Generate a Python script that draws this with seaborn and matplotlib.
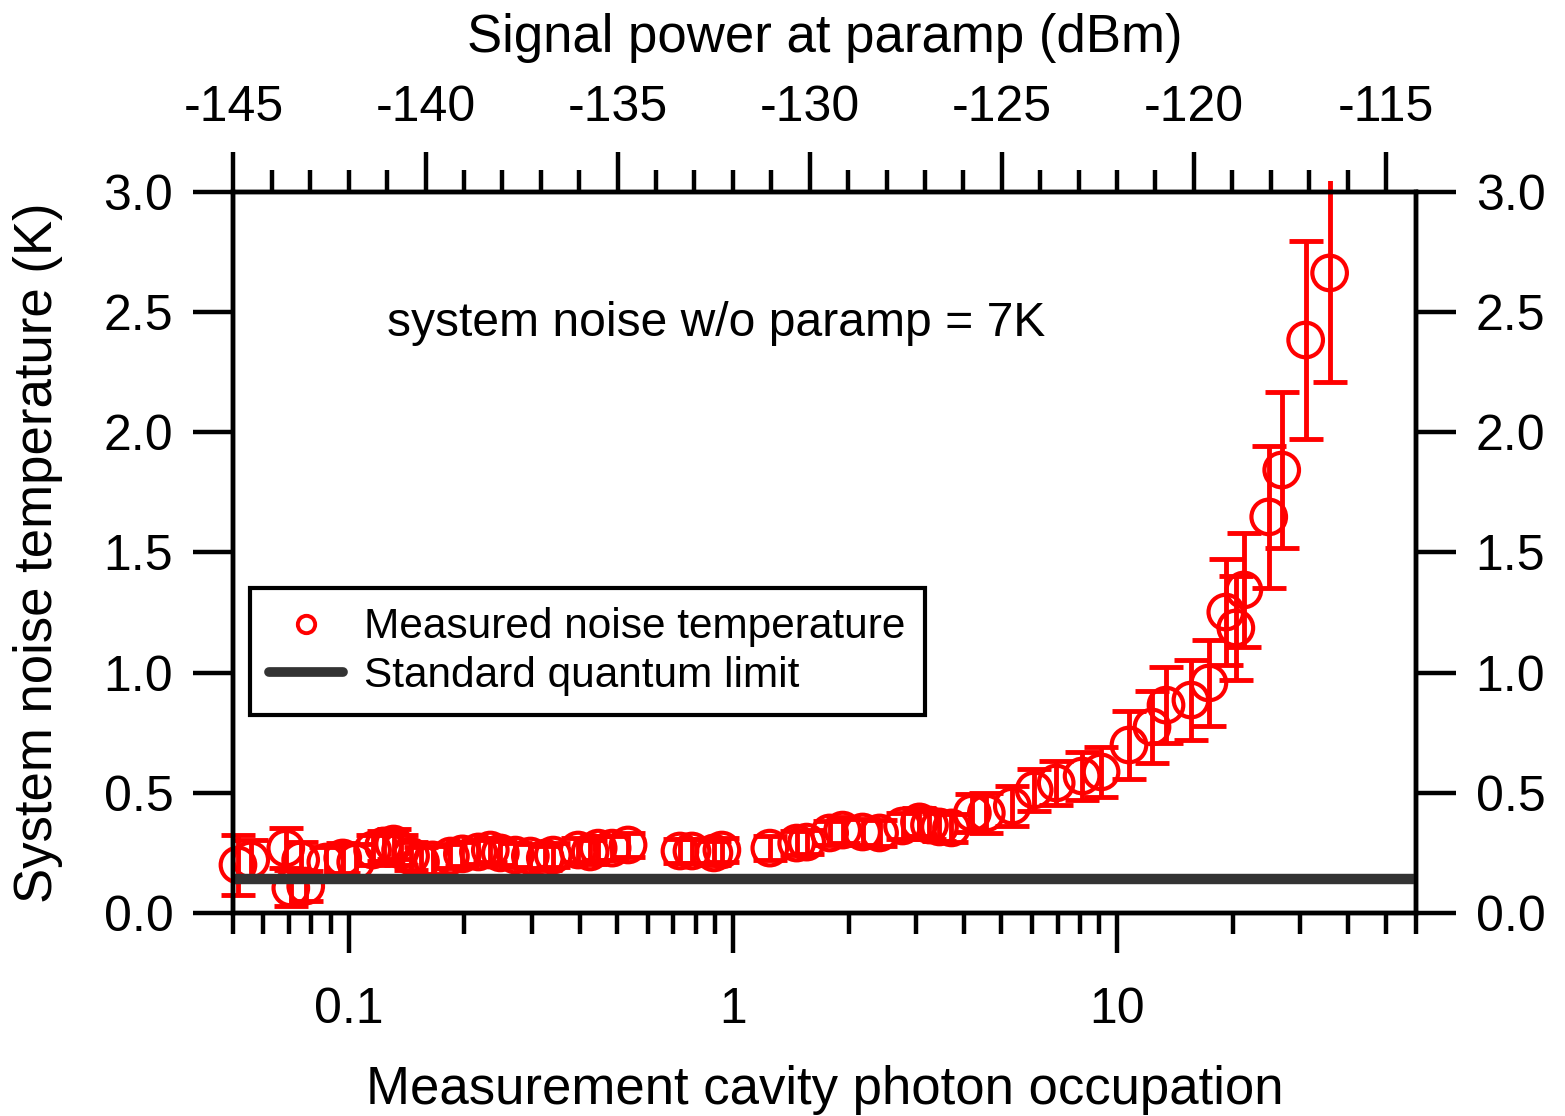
import numpy as np
import pandas as pd
import matplotlib
matplotlib.use("Agg")
import matplotlib.pyplot as plt
import seaborn as sns
from matplotlib.lines import Line2D
from matplotlib.patches import Rectangle
from matplotlib.ticker import MultipleLocator, LogLocator, NullFormatter, NullLocator

# Measured system noise temperature vs. cavity photon occupation
photon_occupation = [
    0.0515, 0.0556, 0.0686, 0.0707, 0.0750, 0.0773, 0.0872, 0.0965, 0.1043, 0.1154,
    0.1233, 0.1309, 0.1365, 0.1449, 0.1538, 0.1653, 0.1840, 0.1977, 0.2176, 0.2337,
    0.2482, 0.2716, 0.2971, 0.3249, 0.3407, 0.3958, 0.4251, 0.4460, 0.4850, 0.5336,
    0.7283, 0.7825, 0.8926, 0.9363, 1.248, 1.466, 1.556, 1.786, 1.931, 2.176,
    2.409, 2.764, 3.060, 3.249, 3.449, 3.706, 4.201, 4.568, 5.337, 6.086,
    6.943, 8.11, 9.087, 10.74, 12.33, 13.41, 15.57, 17.34, 19.19, 20.38,
    21.38, 24.82, 26.83, 30.97, 35.75,
]
noise_temperature = [
    0.200, 0.221, 0.270, 0.104, 0.221, 0.112, 0.212, 0.229, 0.212, 0.262,
    0.279, 0.287, 0.262, 0.237, 0.212, 0.221, 0.237, 0.246, 0.254, 0.262,
    0.250, 0.241, 0.237, 0.229, 0.241, 0.262, 0.254, 0.270, 0.270, 0.283,
    0.258, 0.258, 0.250, 0.262, 0.270, 0.291, 0.295, 0.333, 0.345, 0.337,
    0.333, 0.362, 0.379, 0.366, 0.358, 0.354, 0.416, 0.416, 0.445, 0.512,
    0.541, 0.570, 0.587, 0.699, 0.774, 0.865, 0.886, 0.957, 1.252, 1.186,
    1.344, 1.648, 1.843, 2.384, 2.663,
]
noise_error = [
    0.125, 0.083, 0.083, 0.075, 0.075, 0.062, 0.062, 0.062, 0.075, 0.062,
    0.062, 0.062, 0.062, 0.058, 0.062, 0.058, 0.050, 0.050, 0.050, 0.050,
    0.050, 0.050, 0.050, 0.050, 0.050, 0.050, 0.050, 0.050, 0.050, 0.050,
    0.050, 0.050, 0.050, 0.050, 0.050, 0.050, 0.050, 0.050, 0.054, 0.054,
    0.054, 0.054, 0.058, 0.058, 0.058, 0.058, 0.080, 0.083, 0.083, 0.087,
    0.092, 0.100, 0.104, 0.141, 0.150, 0.158, 0.166, 0.179, 0.220, 0.216,
    0.237, 0.295, 0.325, 0.410, 0.454,
]
standard_quantum_limit = 0.14  # K

x_limits = (0.05, 60)
y_limits = (0.0, 3.0)
bottom_ticks = [0.1, 1, 10]
bottom_tick_labels = ["0.1", "1", "10"]
y_ticks = [0.0, 0.5, 1.0, 1.5, 2.0, 2.5, 3.0]
y_tick_labels = ["0.0", "0.5", "1.0", "1.5", "2.0", "2.5", "3.0"]
power_offset_dbm = -132.0  # signal power = 10 log10(n) + offset


def occupation_to_dbm(n):
    return 10 * np.log10(n) + power_offset_dbm


df = pd.DataFrame({"n": photon_occupation, "T": noise_temperature, "err": noise_error})

sns.set_theme(style="ticks")
plt.rcParams["font.family"] = ["Liberation Sans", "DejaVu Sans"]
plt.rcParams["axes.unicode_minus"] = False
plt.rcParams["text.color"] = "black"
plt.rcParams["axes.labelcolor"] = "black"
plt.rcParams["xtick.color"] = "black"
plt.rcParams["ytick.color"] = "black"

fig = plt.figure(figsize=(15.65, 11.16), dpi=100)
ax = fig.add_axes([0.1489, 0.1819, 0.9048 - 0.1489, 0.8280 - 0.1819])
ax.set_xscale("log")
ax.set_xlim(*x_limits)
ax.set_ylim(*y_limits)

red = "#ff0000"
clip_box = Rectangle((-0.03, -0.03), 1.06, 1.045, transform=ax.transAxes,
                     facecolor="none", edgecolor="none")

eb = ax.errorbar(df["n"], df["T"], yerr=df["err"], fmt="none", ecolor=red,
                 elinewidth=3.5, capsize=12, capthick=3.5, zorder=2)
for art in list(eb.lines[1]) + list(eb.lines[2]):
    art.set_clip_path(clip_box)

sns.scatterplot(data=df, x="n", y="T", marker="o", s=620, facecolor="none",
                edgecolor=red, linewidth=3.0, ax=ax, legend=False, zorder=3)
for coll in ax.collections:
    if coll not in eb.lines[2]:
        coll.set_clip_path(clip_box)

ax.axhline(standard_quantum_limit, color="#333333", lw=7.5, zorder=4)

# Axes styling
for side in ["left", "right", "bottom", "top"]:
    ax.spines[side].set_visible(True)
    ax.spines[side].set_linewidth(3.2)
    ax.spines[side].set_color("black")

ax.set_xticks(bottom_ticks, labels=bottom_tick_labels)
ax.xaxis.set_minor_locator(LogLocator(base=10, subs=np.arange(2, 10)))
ax.xaxis.set_minor_formatter(NullFormatter())
ax.set_yticks(y_ticks, labels=y_tick_labels)
ax.yaxis.set_minor_locator(NullLocator())

ax.tick_params(axis="x", which="major", direction="out", length=29, width=3.2,
               labelsize=36, pad=24, top=False)
ax.tick_params(axis="x", which="minor", direction="out", length=15, width=3.2, top=False)
ax.tick_params(axis="y", which="major", direction="out", length=29, width=3.2,
               labelsize=36, pad=14, left=True, right=True,
               labelleft=True, labelright=True)

# Top axis: signal power in dBm, linear in log10 of the occupation
ax_top = ax.twiny()
ax_top.set_xlim(occupation_to_dbm(x_limits[0]), occupation_to_dbm(x_limits[1]))
ax_top.xaxis.set_major_locator(MultipleLocator(5))
ax_top.xaxis.set_minor_locator(MultipleLocator(1))
ax_top.tick_params(axis="x", which="major", direction="out", length=29, width=3.2,
                   labelsize=36, pad=15, top=True, bottom=False,
                   labeltop=True, labelbottom=False)
ax_top.tick_params(axis="x", which="minor", direction="out", length=16, width=3.2,
                   top=True, bottom=False)
for side in ["left", "right", "bottom", "top"]:
    ax_top.spines[side].set_linewidth(3.2)
    ax_top.spines[side].set_color("black")
ax_top.set_xlabel("Signal power at paramp (dBm)", fontsize=38, labelpad=24)

ax.set_xlabel("Measurement cavity photon occupation", fontsize=38, labelpad=23)
ax.set_ylabel("System noise temperature (K)", fontsize=38, labelpad=29)

ax.text(0.130, 0.818, "system noise w/o paramp = 7K", transform=ax.transAxes,
        fontsize=34.6, va="center", ha="left")

handles = [
    Line2D([], [], marker="o", linestyle="none", markersize=12.5, markerfacecolor="none",
           markeredgecolor=red, markeredgewidth=2.8),
    Line2D([], [], color="#333333", lw=7),
]
leg = ax.legend(handles, ["Measured noise temperature", "Standard quantum limit"],
                loc="lower left", bbox_to_anchor=(0.0144, 0.2746), borderaxespad=0,
                fontsize=30.5, frameon=True, fancybox=False, framealpha=1.0,
                handlelength=1.75, handletextpad=0.5, borderpad=0.45, labelspacing=0.2)
leg.get_frame().set_edgecolor("black")
leg.get_frame().set_linewidth(3.0)
leg.set_zorder(6)
for t in leg.get_texts():
    t.set_color("black")

fig.savefig("out.png", dpi=100)
